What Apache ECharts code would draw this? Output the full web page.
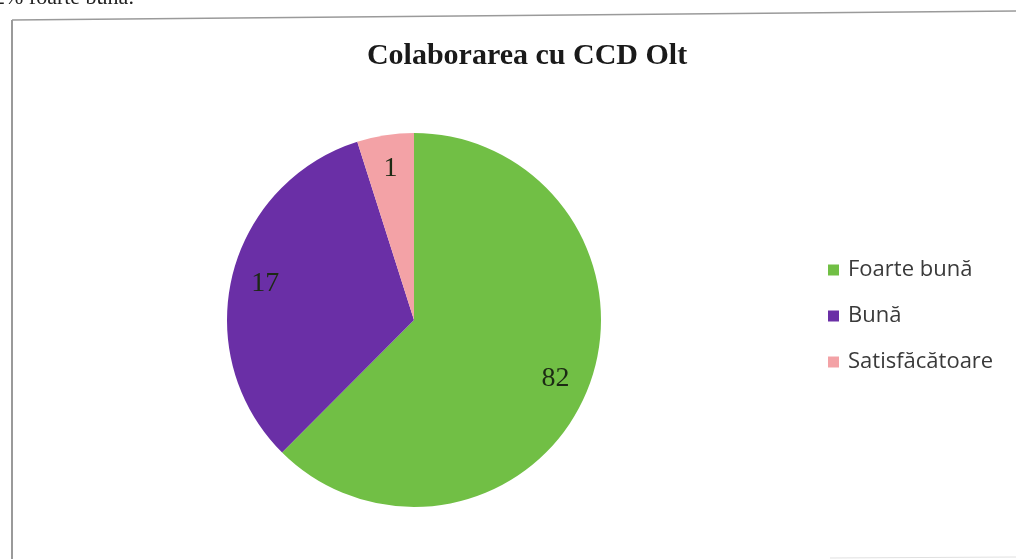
<!DOCTYPE html>
<html>
<head>
<meta charset="utf-8">
<script src="https://cdn.jsdelivr.net/npm/echarts@6/dist/echarts.min.js"></script>
<style>
html,body{margin:0;padding:0;background:#fff;}
#c{width:1016px;height:559px;}
</style>
</head>
<body>
<div id="c"></div>
<script>
// categories (legend order)
const categories = ['Foarte bună', 'Bună', 'Satisfăcătoare'];
// slice sizes as drawn in the picture (share of the circle, %)
const sliceSizes = [62.4, 32.6, 4.9];
// numbers printed on the slices
const sliceLabels = [82, 17, 1];
const colors = ['#71bf45', '#6a2fa6', '#f3a2a6'];
const titleText = 'Colaborarea cu CCD Olt';
const pageText = '2% foarte bună.';

const chart = echarts.init(document.getElementById('c'), null, {renderer: 'canvas'});

const pieData = categories.map((n, i) => ({name: n, value: sliceSizes[i], itemStyle: {color: colors[i]}}));

chart.setOption({
  animation: false,
  backgroundColor: '#ffffff',
  title: {
    text: titleText,
    left: 522, top: 36, textAlign: 'center',
    textStyle: {fontFamily: 'Liberation Serif', fontWeight: 'bold', fontSize: 30, color: '#1a1a1a'}
  },
  legend: {
    orient: 'vertical',
    left: 828, top: 259, padding: 0,
    itemWidth: 11, itemHeight: 11, itemGap: 24,
    icon: 'rect',
    data: categories,
    textStyle: {fontFamily: 'Open Sans', fontSize: 22, color: '#3a3a3a', lineHeight: 22, padding: [0,0,0,4]}
  },
  graphic: [
    {type: 'text', left: -6, top: -13, silent: true,
     style: {text: pageText, font: '22px "Liberation Serif"', fill: '#222'}},
    {type: 'line', silent: true, shape: {x1: 12, y1: 20, x2: 1016, y2: 11}, style: {stroke: '#9a9a9a', lineWidth: 1.5}},
    {type: 'line', silent: true, shape: {x1: 12, y1: 20, x2: 12, y2: 559}, style: {stroke: '#9a9a9a', lineWidth: 2}},
    {type: 'line', silent: true, shape: {x1: 830, y1: 558, x2: 1016, y2: 557}, style: {stroke: '#e0e0e0', lineWidth: 1}}
  ],
  series: [
    {
      type: 'pie',
      center: [414, 320],
      radius: [0, 187],
      startAngle: 90,
      clockwise: true,
      label: {show: false},
      labelLine: {show: false},
      emphasis: {disabled: true},
      data: pieData
    },
    {
      type: 'pie',
      center: [414, 320],
      radius: [113, 187],
      startAngle: 90,
      clockwise: true,
      silent: true,
      itemStyle: {color: 'rgba(0,0,0,0)'},
      label: {
        show: true, position: 'inside',
        formatter: p => String(sliceLabels[p.dataIndex]),
        fontFamily: 'Liberation Serif', fontSize: 28, color: '#1c2a14'
      },
      labelLine: {show: false},
      emphasis: {disabled: true},
      data: categories.map((n, i) => ({name: n, value: sliceSizes[i]}))
    }
  ]
});
</script>
</body>
</html>
